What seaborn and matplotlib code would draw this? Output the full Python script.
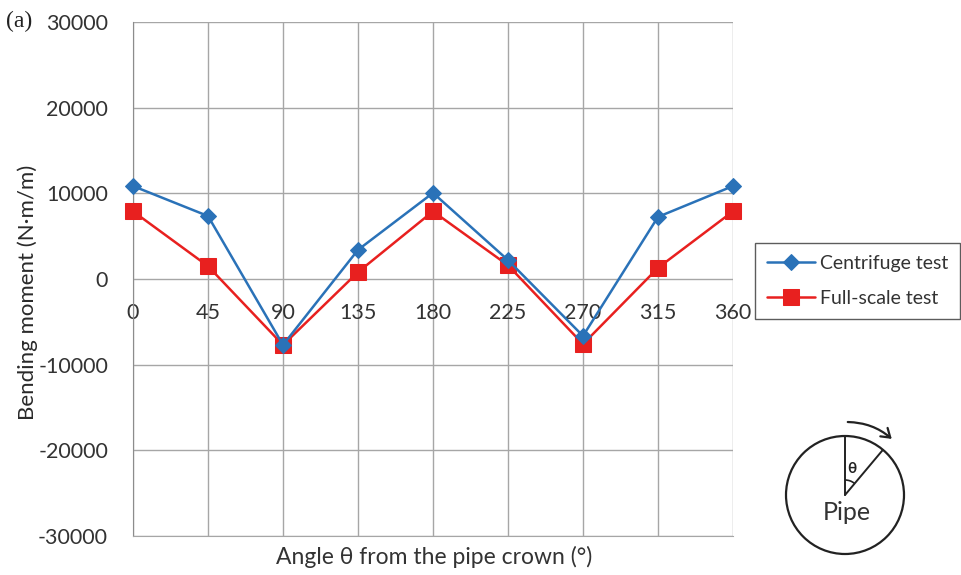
import numpy as np
import pandas as pd
import matplotlib
matplotlib.use("Agg")
import matplotlib.pyplot as plt
from matplotlib.patches import Circle, Arc, FancyArrowPatch
from matplotlib import transforms
import seaborn as sns

angles = [0, 45, 90, 135, 180, 225, 270, 315, 360]
centrifuge = [10850, 7350, -7700, 3400, 10050, 2200, -6650, 7250, 10850]
full_scale = [7900, 1500, -7700, 800, 7900, 1600, -7600, 1300, 7900]
y_ticks = [-30000, -20000, -10000, 0, 10000, 20000, 30000]

blue = "#2a72b8"
red = "#e8201f"

sns.set_style("white")
plt.rcParams["font.family"] = ["Lato", "DejaVu Sans"]

df = pd.DataFrame({"angle": angles * 2,
                   "moment": centrifuge + full_scale,
                   "series": ["Centrifuge test"] * 9 + ["Full-scale test"] * 9})

fig = plt.figure(figsize=(9.62, 5.75), dpi=100)
ax = fig.add_axes([133 / 962, 1 - 536 / 575, 600 / 962, 514 / 575])

sns.lineplot(data=df[df.series == "Centrifuge test"], x="angle", y="moment", ax=ax,
             color=blue, marker="D", markersize=8, markeredgecolor=blue, lw=1.8,
             label="Centrifuge test", clip_on=False, zorder=4)
sns.lineplot(data=df[df.series == "Full-scale test"], x="angle", y="moment", ax=ax,
             color=red, marker="s", markersize=11, markeredgecolor=red, lw=1.8,
             label="Full-scale test", clip_on=False, zorder=3)

ax.set_xlim(0, 360)
ax.set_ylim(-30000, 30000)
ax.set_yticks(y_ticks)
ax.set_yticklabels([str(v) for v in y_ticks], fontsize=15.5, color="#333333")
ax.set_xticks(angles)
ax.grid(True, color="#a6a6a6", lw=1)
ax.set_axisbelow(True)
for s in ["top", "right"]:
    ax.spines[s].set_visible(False)
ax.spines["left"].set_color("#8c8c8c")
ax.spines["bottom"].set_color("#a6a6a6")
ax.tick_params(axis="y", length=7, color="#8c8c8c", pad=11)
ax.tick_params(axis="x", length=0, labelbottom=False)

# x tick labels sit just under the zero line, Excel style
trans = transforms.offset_copy(ax.transData, fig=fig, x=0, y=-34, units="dots")
for a in angles:
    ax.text(a, 0, str(a), transform=trans, ha="center", va="center",
            fontsize=15.5, color="#333333", zorder=2)

ax.set_xlabel("")
ax.set_ylabel("")
fig.text(434 / 962, 1 - 557 / 575, "Angle \u03b8 from the pipe crown (\u00b0)",
         ha="center", va="center", fontsize=16.5, color="#333333")
fig.text(28 / 962, 1 - 292 / 575, "Bending moment (N\u00b7m/m)", rotation=90,
         ha="center", va="center", fontsize=16, color="#2a2a2a")
fig.text(6 / 962, 1 - 21 / 575, "(a)", ha="left", va="center", fontsize=17,
         family="Liberation Serif", color="#222222")

leg = ax.legend(loc="upper left", bbox_to_anchor=(755 / 962, 1 - 243 / 575),
                bbox_transform=fig.transFigure, frameon=True, fancybox=False,
                fontsize=14, handlelength=2.5, borderpad=0.6, labelspacing=0.95,
                handletextpad=0.25, borderaxespad=0)
leg.get_frame().set_edgecolor("#333333")
leg.get_frame().set_linewidth(1.0)
for t in leg.get_texts():
    t.set_color("#333333")

# pipe sketch
pax = fig.add_axes([770 / 962, 1 - 570 / 575, 150 / 962, 150 / 575])
pax.set_xlim(-75, 75)
pax.set_ylim(-75, 75)
pax.set_aspect("equal")
pax.axis("off")
r = 59
pax.add_patch(Circle((0, 0), r, fill=False, lw=1.6, color="#222222"))
pax.plot([0, 0], [0, r], color="#222222", lw=1.4)
ang = np.deg2rad(40)
pax.plot([0, r * np.sin(ang)], [0, r * np.cos(ang)], color="#222222", lw=1.4)
pax.add_patch(Arc((0, 0), 30, 30, theta1=50, theta2=90, lw=1.2, color="#222222"))
pax.text(7, 26, "\u03b8", fontsize=11, ha="center", va="center", color="#222222",
         fontweight="bold")
pax.text(2, -18, "Pipe", fontsize=18, ha="center", va="center", color="#333333")
R = 73
a0, a1 = np.deg2rad(0), np.deg2rad(42)
arr = FancyArrowPatch((R * np.sin(a0), R * np.cos(a0)), (R * np.sin(a1), R * np.cos(a1)),
                      connectionstyle="arc3,rad=-0.2", arrowstyle="->,head_length=6,head_width=4",
                      lw=1.6, color="#222222")
pax.add_patch(arr)

fig.savefig("out.png", dpi=100)
